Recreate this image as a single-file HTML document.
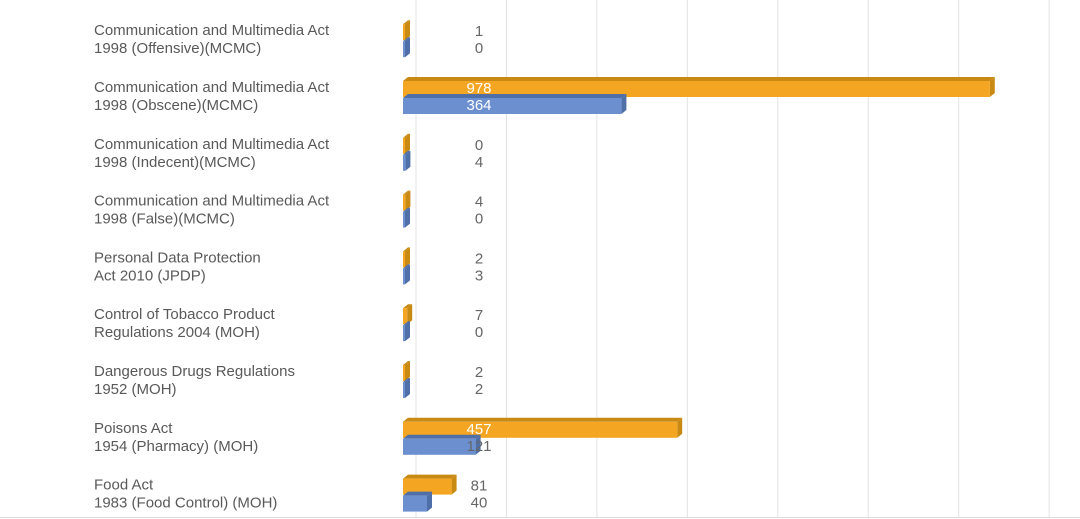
<!DOCTYPE html>
<html><head><meta charset="utf-8"><style>
body{margin:0;background:#fff;}
svg{display:block;font-family:"Liberation Sans",sans-serif;}
</style></head><body>
<svg id="chart" width="1080" height="519" viewBox="0 0 1080 519">
<g id="grid"></g>
<g id="bars"></g>
<g id="labels"></g>
<line x1="0" y1="517.5" x2="1080" y2="517.5" stroke="#ddd"/>
</svg>
<script>
const categories=[
["Communication and Multimedia Act","1998 (Offensive)(MCMC)"],
["Communication and Multimedia Act","1998 (Obscene)(MCMC)"],
["Communication and Multimedia Act","1998 (Indecent)(MCMC)"],
["Communication and Multimedia Act","1998 (False)(MCMC)"],
["Personal Data Protection","Act 2010 (JPDP)"],
["Control of Tobacco Product","Regulations 2004 (MOH)"],
["Dangerous Drugs Regulations","1952 (MOH)"],
["Poisons Act","1954 (Pharmacy) (MOH)"],
["Food Act","1983 (Food Control) (MOH)"]];
const seriesA=[1,978,0,4,2,7,2,457,81];
const seriesB=[0,364,4,0,3,0,2,121,40];
const gridTicks=[0,150,300,450,600,750,900,1050];
const NS="http://www.w3.org/2000/svg";
const x0=403, scale=0.6;
function xs(v){return x0+v*scale;}
function yc(i){return 89+(i-1)*56.8;}
function mk(tag,attrs,parent){const e=document.createElementNS(NS,tag);for(const k in attrs)e.setAttribute(k,attrs[k]);parent.appendChild(e);return e;}
const grid=document.getElementById('grid'),bars=document.getElementById('bars'),labels=document.getElementById('labels');
gridTicks.forEach(t=>{
 const l=mk('line',{x1:416+t*0.603,x2:416+t*0.603,y1:0,y2:517,stroke:'#e3e3e3'},grid);
 
 
});
function bar(v,y,face,dark,name){
 const w=Math.max(v*scale,2);const d=5;
 const g=mk('g',{},bars);
 
 
 mk('polygon',{points:`${x0},${y} ${x0+d},${y-4} ${x0+w+d},${y-4} ${x0+w},${y}`,fill:dark},g);
 mk('polygon',{points:`${x0+w},${y} ${x0+w+d},${y-4} ${x0+w+d},${y+12} ${x0+w},${y+16}`,fill:dark},g);
 mk('rect',{x:x0,y:y,width:w,height:16,fill:face},g);
}
categories.forEach((c,i)=>{
 const y=yc(i);
 bar(seriesA[i],y-8,'#f4a623','#c98a14','bar-orange-'+i);
 bar(seriesB[i],y+9,'#6b8fcf','#4f6fa8','bar-blue-'+i);
 [[seriesA[i],y+5],[seriesB[i],y+22]].forEach(([v,ty],k)=>{
  const t=mk('text',{x:479,y:ty-1,'text-anchor':'middle','font-size':15,fill:(xs(v)>490?'#fff':'#666')},labels);
  t.textContent=v;
  
  
 });
 c.forEach((line,j)=>{
  const t=mk('text',{x:94,y:y+3+j*18,'font-size':15,fill:'#595959'},labels);
  t.textContent=line;
  
  
 });
});
</script>
</body></html>
